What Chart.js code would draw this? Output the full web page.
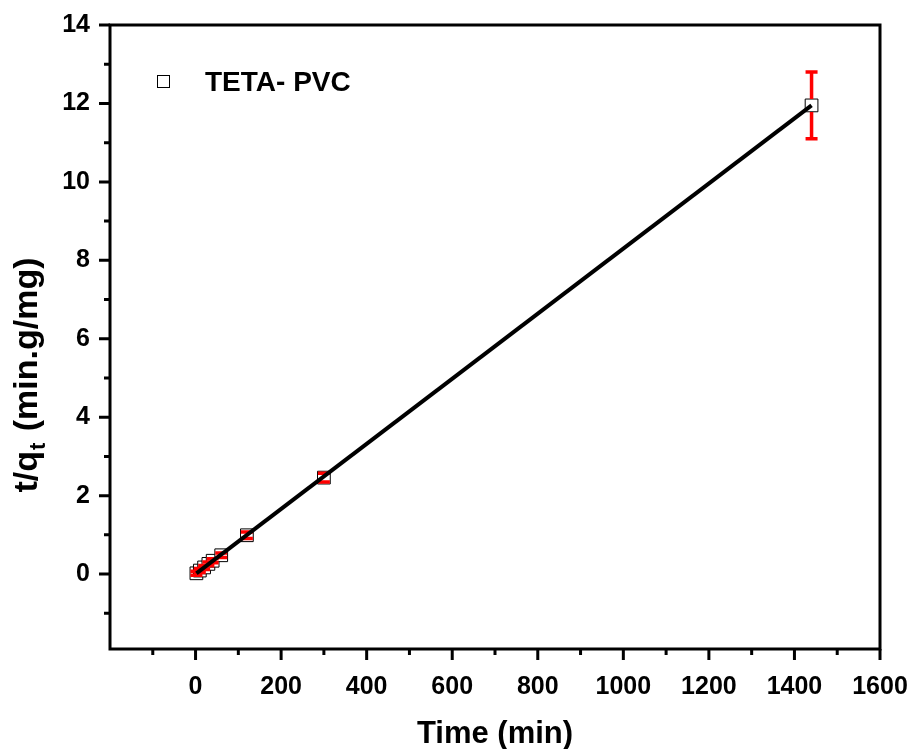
<!DOCTYPE html>
<html>
<head>
<meta charset="utf-8">
<script src="https://cdn.jsdelivr.net/npm/chart.js@4/dist/chart.umd.min.js"></script>
<style>
  html, body { margin: 0; padding: 0; background: #fff; }
  canvas { display: block; }
</style>
</head>
<body>
<canvas id="kinChart" width="911" height="749"></canvas>
<script>
// pseudo-second-order plot, TETA-PVC
const timeMin = [2, 10, 20, 30, 40, 60, 120, 300, 1440];
const tOverQ = [0.02, 0.09, 0.17, 0.26, 0.34, 0.48, 0.99, 2.46, 11.95];
const errQ = [0.05, 0.05, 0.05, 0.05, 0.05, 0.06, 0.08, 0.11, 0.85];
const fitX = [2, 1440];
const fitY = [0.02, 11.95];
const xTicks = [-100, 0, 100, 200, 300, 400, 500, 600, 700, 800, 900, 1000, 1100, 1200, 1300, 1400, 1500, 1600];
const yTicks = [-1, 0, 1, 2, 3, 4, 5, 6, 7, 8, 9, 10, 11, 12, 13, 14];
const seriesName = 'TETA- PVC';

const FONT = '"Liberation Sans", Arial, sans-serif';

const scatterPts = timeMin.map((t, i) => ({ x: t, y: tOverQ[i] }));
const fitPts = fitX.map((x, i) => ({ x: x, y: fitY[i] }));

const errorBars = {
  id: 'errorBars',
  afterDatasetDraw(chart, args) {
    if (args.index !== 0) return;
    const ctx = chart.ctx;
    const xs = chart.scales.x, ys = chart.scales.y;
    ctx.save();
    ctx.strokeStyle = '#ff0000';
    ctx.lineWidth = 3.5;
    timeMin.forEach((t, i) => {
      const px = xs.getPixelForValue(t);
      const top = ys.getPixelForValue(tOverQ[i] + errQ[i]);
      const bot = ys.getPixelForValue(tOverQ[i] - errQ[i]);
      const py = ys.getPixelForValue(tOverQ[i]);
      const half = 6.5;
      ctx.beginPath();
      if (top < py - half) { ctx.moveTo(px, top); ctx.lineTo(px, py - half); }
      if (bot > py + half) { ctx.moveTo(px, py + half); ctx.lineTo(px, bot); }
      ctx.moveTo(px - 6, top); ctx.lineTo(px + 6, top);
      ctx.moveTo(px - 6, bot); ctx.lineTo(px + 6, bot);
      ctx.stroke();
    });
    ctx.restore();
  }
};

const frameAndText = {
  id: 'frameAndText',
  afterDraw(chart) {
    const ctx = chart.ctx;
    const a = chart.chartArea;
    const xs = chart.scales.x, ys = chart.scales.y;
    ctx.save();
    ctx.strokeStyle = '#000';
    ctx.lineWidth = 3;
    ctx.strokeRect(a.left, a.top, a.right - a.left, a.bottom - a.top);

    // outward ticks
    ctx.beginPath();
    xTicks.forEach(v => {
      const p = xs.getPixelForValue(v);
      const len = (v % 200 === 0) ? 11 : 6;
      ctx.moveTo(p, a.bottom); ctx.lineTo(p, a.bottom + len);
    });
    yTicks.forEach(v => {
      const p = ys.getPixelForValue(v);
      const len = (v % 2 === 0) ? 11 : 6;
      ctx.moveTo(a.left, p); ctx.lineTo(a.left - len, p);
    });
    ctx.stroke();

    // axis titles
    ctx.fillStyle = '#000';
    ctx.font = 'bold 31px ' + FONT;
    ctx.textAlign = 'center';
    ctx.textBaseline = 'alphabetic';
    ctx.fillText('Time (min)', (a.left + a.right) / 2, 743);

    ctx.save();
    ctx.translate(37, 375);
    ctx.rotate(-Math.PI / 2);
    ctx.textAlign = 'left';
    const part1 = 't/q', sub = 't', part2 = ' (min.g/mg)';
    ctx.font = 'bold 34px ' + FONT;
    const w1 = ctx.measureText(part1).width;
    const w3 = ctx.measureText(part2).width;
    ctx.font = 'bold 22px ' + FONT;
    const w2 = ctx.measureText(sub).width;
    let x0 = -(w1 + w2 + w3 + 3) / 2;
    ctx.font = 'bold 34px ' + FONT;
    ctx.fillText(part1, x0, 0);
    ctx.font = 'bold 22px ' + FONT;
    ctx.fillText(sub, x0 + w1 + 1, 8);
    ctx.font = 'bold 34px ' + FONT;
    ctx.fillText(part2, x0 + w1 + w2 + 3, 0);
    ctx.restore();

    // legend
    ctx.lineWidth = 1;
    ctx.fillStyle = '#fff';
    ctx.fillRect(157.5, 75.5, 12, 12);
    ctx.strokeRect(157.5, 75.5, 12, 12);
    ctx.fillStyle = '#000';
    ctx.font = 'bold 28px ' + FONT;
    ctx.textAlign = 'left';
    ctx.textBaseline = 'middle';
    ctx.fillText(seriesName, 205, 83);
    ctx.restore();
  }
};

new Chart(document.getElementById('kinChart').getContext('2d'), {
  type: 'scatter',
  data: {
    datasets: [
      {
        label: seriesName,
        data: scatterPts,
        pointStyle: 'rect',
        pointRadius: 9,
        pointBackgroundColor: '#fff',
        pointBorderColor: '#000',
        pointBorderWidth: 1,
        showLine: false,
        order: 1
      },
      {
        label: 'fit',
        data: fitPts,
        showLine: true,
        borderColor: '#000',
        borderWidth: 4,
        pointRadius: 0,
        order: 0
      }
    ]
  },
  options: {
    responsive: false,
    animation: false,
    layout: { padding: { left: 0, top: 25, right: 31, bottom: 0 } },
    plugins: { legend: { display: false }, tooltip: { enabled: false } },
    scales: {
      x: {
        type: 'linear',
        min: -200,
        max: 1600,
        afterFit: s => { s.height = 100; s.paddingLeft = 0; s.paddingRight = 0; },
        afterBuildTicks: s => { s.ticks = xTicks.map(v => ({ value: v })); },
        grid: { display: false, drawTicks: false },
        border: { display: false },
        ticks: {
          padding: 23,
          color: '#000',
          font: { family: FONT, size: 25, weight: 'bold' },
          maxRotation: 0,
          autoSkip: false,
          callback: v => (v >= 0 && v % 200 === 0) ? String(v) : ''
        }
      },
      y: {
        type: 'linear',
        min: -1.91,
        max: 14,
        afterFit: s => { s.width = 110; s.paddingTop = 0; s.paddingBottom = 0; },
        afterBuildTicks: s => { s.ticks = yTicks.map(v => ({ value: v })); },
        grid: { display: false, drawTicks: false },
        border: { display: false },
        ticks: {
          padding: 20,
          color: '#000',
          font: { family: FONT, size: 25, weight: 'bold' },
          autoSkip: false,
          callback: v => (v >= 0 && v % 2 === 0) ? String(v) : ''
        }
      }
    }
  },
  plugins: [errorBars, frameAndText]
});
</script>
</body>
</html>
